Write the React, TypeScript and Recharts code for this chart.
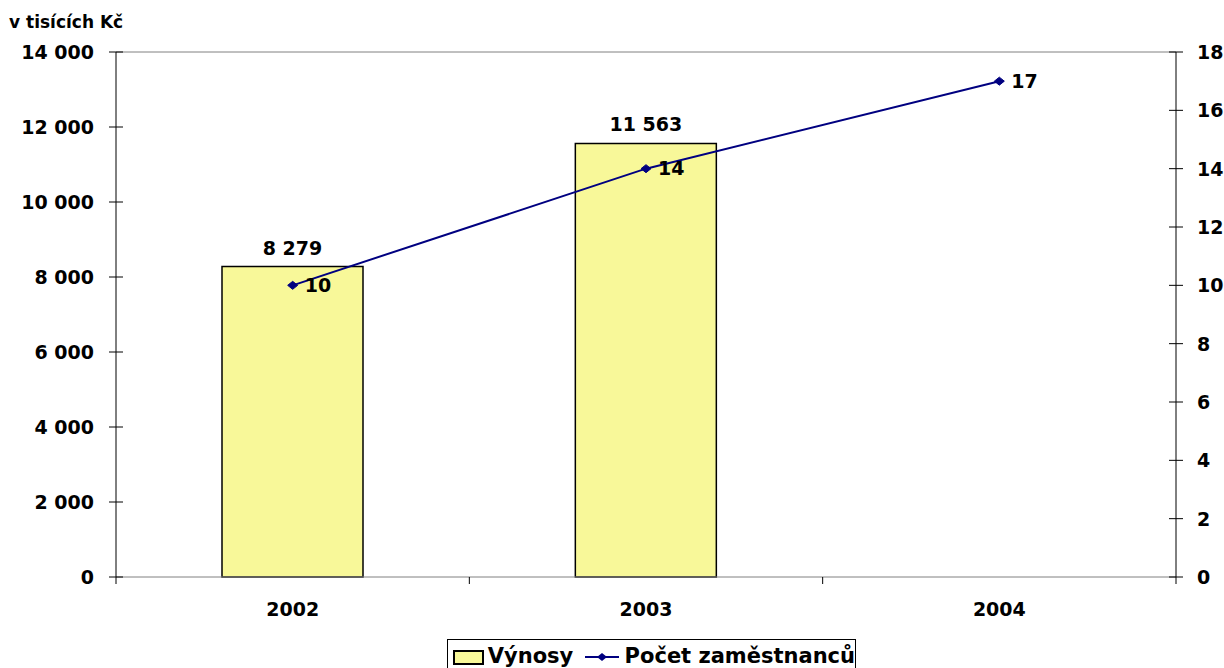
import React from "react";
import {
  ComposedChart,
  Bar,
  Line,
  XAxis,
  YAxis,
  LabelList,
  ReferenceLine,
} from "recharts";

const years = ["2002", "2003", "2004"];
const vynosy: (number | null)[] = [8279, 11563, null];
const pocetZamestnancu = [10, 14, 17];
const leftTicks = [0, 2000, 4000, 6000, 8000, 10000, 12000, 14000];
const rightTicks = [0, 2, 4, 6, 8, 10, 12, 14, 16, 18];

const data = years.map((year, i) => ({
  year,
  vynosy: vynosy[i],
  pocet: pocetZamestnancu[i],
}));

const FONT = "'DejaVu Sans', 'Liberation Sans', Arial, sans-serif";
const BAR_FILL = "#F8F899";
const LINE_COLOR = "#000080";

const fmt = (v: any) =>
  v === null || v === undefined || v === ""
    ? ""
    : String(v).replace(/\B(?=(\d{3})+(?!\d))/g, " ");

const textStyle = {
  fontFamily: FONT,
  fontSize: 19,
  fontWeight: "bold" as const,
  fill: "#000",
};

const LeftTick = ({ x, y, payload }: any) => (
  <g>
    <line x1={x - 7} x2={x + 7} y1={y} y2={y} stroke="#000" />
    <text x={x - 22} y={y} textAnchor="end" dominantBaseline="central" {...textStyle}>
      {fmt(payload.value)}
    </text>
  </g>
);

const RightTick = ({ x, y, payload }: any) => (
  <g>
    <line x1={x - 7} x2={x + 7} y1={y} y2={y} stroke="#000" />
    <text x={x + 21} y={y} textAnchor="start" dominantBaseline="central" {...textStyle}>
      {payload.value}
    </text>
  </g>
);

// category labels, with tick marks drawn on the boundaries between categories
const YearTick = ({ x, y, payload, index, visibleTicksCount }: any) => {
  const half = payload.offset ?? 176.7;
  const last = index === visibleTicksCount - 1;
  return (
    <g>
      <line x1={x - half} x2={x - half} y1={y} y2={y + 7} stroke="#000" />
      {last && (
        <line x1={x + half} x2={x + half} y1={y} y2={y + 7} stroke="#000" />
      )}
      <text x={x} y={y + 32} textAnchor="middle" dominantBaseline="central" {...textStyle}>
        {payload.value}
      </text>
    </g>
  );
};

const Diamond = (props: any) => {
  const { cx, cy } = props;
  return (
    <path
      key={`d-${cx}-${cy}`}
      d={`M${cx - 5},${cy} L${cx},${cy - 4} L${cx + 5},${cy} L${cx},${cy + 4} Z`}
      fill={LINE_COLOR}
      stroke={LINE_COLOR}
    />
  );
};

const App: React.FC = () => {
  return (
    <div
      style={{
        position: "absolute",
        left: 0,
        top: 0,
        width: 1224,
        height: 668,
        background: "#fff",
        overflow: "hidden",
        fontFamily: FONT,
      }}
    >
      <div
        style={{
          position: "absolute",
          left: 9,
          top: 12,
          fontWeight: "bold",
          fontSize: 17,
          lineHeight: "20px",
          color: "#000",
        }}
      >
        v tisících Kč
      </div>
      <ComposedChart
        width={1224}
        height={668}
        data={data}
        margin={{ top: 52, right: 0, bottom: 41, left: 0 }}
        barCategoryGap="30%"
      >
        <XAxis
          dataKey="year"
          height={50}
          axisLine={{ stroke: "#808080" }}
          tickLine={false}
          tickSize={0}
          tickMargin={0}
          tick={<YearTick />}
          interval={0}
        />
        <YAxis
          yAxisId="left"
          width={116}
          domain={[0, 14000]}
          ticks={leftTicks}
          axisLine={{ stroke: "#000" }}
          tickLine={false}
          tickSize={0}
          tickMargin={0}
          tick={<LeftTick />}
          interval={0}
        />
        <YAxis
          yAxisId="right"
          orientation="right"
          width={48}
          domain={[0, 18]}
          ticks={rightTicks}
          axisLine={{ stroke: "#000" }}
          tickLine={false}
          tickSize={0}
          tickMargin={0}
          tick={<RightTick />}
          interval={0}
        />
        <ReferenceLine yAxisId="left" y={14000} stroke="#808080" />
        <Bar
          yAxisId="left"
          dataKey="vynosy"
          fill={BAR_FILL}
          stroke="#000"
          strokeWidth={1.5}
          isAnimationActive={false}
        >
          <LabelList
            dataKey="vynosy"
            position="top"
            offset={12}
            formatter={fmt}
            {...textStyle}
          />
        </Bar>
        <Line
          yAxisId="right"
          dataKey="pocet"
          stroke={LINE_COLOR}
          strokeWidth={2}
          dot={Diamond}
          activeDot={false}
          isAnimationActive={false}
        >
          <LabelList dataKey="pocet" position="right" offset={12} {...textStyle} />
        </Line>
      </ComposedChart>
      <div
        style={{
          position: "absolute",
          left: 447,
          top: 639,
          width: 409,
          height: 40,
          border: "1px solid #000",
          display: "flex",
          alignItems: "flex-start",
          paddingTop: 4,
          boxSizing: "border-box",
          fontSize: 21,
          fontWeight: "bold",
          color: "#000",
          whiteSpace: "nowrap",
        }}
      >
        <div
          style={{
            width: 28,
            height: 11,
            marginLeft: 5,
            marginTop: 6,
            background: BAR_FILL,
            border: "2px solid #000",
          }}
        />
        <span style={{ marginLeft: 4, lineHeight: "24px" }}>Výnosy</span>
        <svg width={38} height={24} style={{ marginLeft: 10 }}>
          <line x1={2} x2={36} y1={13} y2={13} stroke={LINE_COLOR} strokeWidth={2} />
          <path d="M14,13 L19,9 L24,13 L19,17 Z" fill={LINE_COLOR} />
        </svg>
        <span style={{ marginLeft: 5, lineHeight: "24px" }}>
          Počet zaměstnanců
        </span>
      </div>
    </div>
  );
};

export default App;
